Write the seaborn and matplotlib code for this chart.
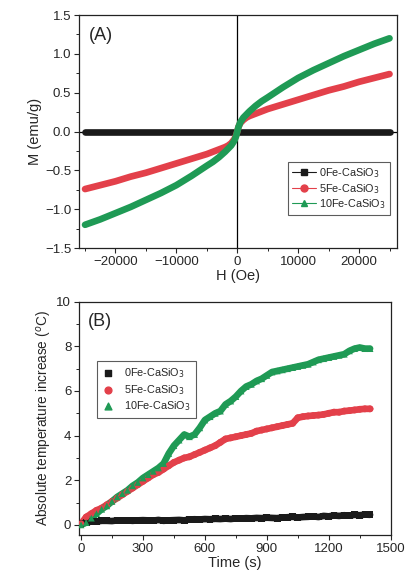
import numpy as np
import pandas as pd
import seaborn as sns
import matplotlib.pyplot as plt
from matplotlib.ticker import AutoMinorLocator, MultipleLocator

sns.set_theme(style="white")
plt.rcParams['font.family'] = ['Liberation Sans', 'DejaVu Sans']

# ---------- Panel A: M vs H ----------
H = [-25000, -22500, -20000, -17500, -15000, -12500, -10000, -7500, -5000, -4000, -3000,
     -2000, -1500, -1000, -500, -200, 0, 200, 500, 1000, 1500, 2000, 3000, 4000, 5000,
     7500, 10000, 12500, 15000, 17500, 20000, 22500, 25000]
M_0Fe = [0.0] * len(H)
M_5Fe = [-0.74, -0.69, -0.64, -0.58, -0.53, -0.47, -0.41, -0.35, -0.29, -0.26, -0.23,
         -0.20, -0.18, -0.15, -0.10, -0.05, 0.0, 0.06, 0.11, 0.15, 0.18, 0.20, 0.23, 0.26, 0.29,
         0.35, 0.41, 0.47, 0.53, 0.58, 0.64, 0.69, 0.74]
M_10Fe = [-1.20, -1.13, -1.05, -0.97, -0.88, -0.79, -0.69, -0.57, -0.44, -0.39, -0.33,
          -0.26, -0.22, -0.18, -0.12, -0.06, 0.0, 0.06, 0.12, 0.18, 0.22, 0.26, 0.33, 0.39, 0.44,
          0.57, 0.69, 0.79, 0.88, 0.97, 1.05, 1.13, 1.20]

# ---------- Panel B: temperature vs time ----------
t = [0, 25, 50, 75, 100, 125, 150, 175, 200, 225, 250, 275, 300, 325, 350, 375, 400, 425,
     450, 475, 500, 525, 550, 575, 600, 625, 650, 675, 700, 725, 750, 775, 800, 825, 850,
     875, 900, 925, 950, 975, 1000, 1025, 1050, 1075, 1100, 1125, 1150, 1175, 1200, 1225,
     1250, 1275, 1300, 1325, 1350, 1375, 1400]
T_0Fe = [0.05, 0.10, 0.15, 0.15, 0.18, 0.18, 0.17, 0.20, 0.19, 0.20, 0.18, 0.20, 0.21, 0.20,
         0.19, 0.22, 0.18, 0.20, 0.21, 0.22, 0.20, 0.24, 0.25, 0.24, 0.26, 0.25, 0.27, 0.26,
         0.28, 0.26, 0.29, 0.28, 0.30, 0.29, 0.31, 0.30, 0.32, 0.31, 0.30, 0.33, 0.34, 0.36,
         0.33, 0.35, 0.36, 0.38, 0.35, 0.40, 0.38, 0.42, 0.40, 0.43, 0.41, 0.45, 0.43, 0.46, 0.45]
T_5Fe = [0.05, 0.35, 0.50, 0.65, 0.75, 0.90, 1.05, 1.20, 1.35, 1.50, 1.65, 1.80, 1.95, 2.10,
         2.25, 2.35, 2.50, 2.65, 2.80, 2.90, 3.00, 3.05, 3.15, 3.25, 3.35, 3.45, 3.55, 3.70,
         3.85, 3.90, 3.95, 4.00, 4.05, 4.10, 4.20, 4.25, 4.30, 4.35, 4.40, 4.45, 4.50, 4.55,
         4.80, 4.85, 4.88, 4.90, 4.92, 4.95, 5.00, 5.05, 5.05, 5.10, 5.12, 5.15, 5.18, 5.20, 5.20]
T_10Fe = [0.00, 0.10, 0.30, 0.50, 0.70, 0.85, 1.05, 1.25, 1.40, 1.55, 1.75, 1.90, 2.10, 2.25,
          2.40, 2.55, 2.75, 3.20, 3.55, 3.80, 4.05, 3.95, 4.05, 4.35, 4.70, 4.85, 5.00, 5.10,
          5.40, 5.55, 5.75, 6.00, 6.20, 6.30, 6.45, 6.55, 6.70, 6.85, 6.90, 6.95, 7.00, 7.05,
          7.10, 7.15, 7.20, 7.30, 7.40, 7.45, 7.50, 7.55, 7.60, 7.65, 7.80, 7.90, 7.95, 7.90, 7.90]

labels = ['0Fe-CaSiO$_3$', '5Fe-CaSiO$_3$', '10Fe-CaSiO$_3$']
colors = ['#1a1a1a', '#e3404a', '#1f9a55']
markers = ['s', 'o', '^']

fig = plt.figure(figsize=(4.07, 5.77), dpi=100)
axA = fig.add_axes([0.194, 0.570, 0.781, 0.404])
axB = fig.add_axes([0.194, 0.073, 0.766, 0.404])

dfA = pd.DataFrame({'H': H * 3, 'M': M_0Fe + M_5Fe + M_10Fe,
                    'series': sum([[l] * len(H) for l in labels], [])})
dfB = pd.DataFrame({'t': t * 3, 'T': T_0Fe + T_5Fe + T_10Fe,
                    'series': sum([[l] * len(t) for l in labels], [])})

# Panel A: reference lines at zero
axA.axhline(0, color='black', lw=0.9, zorder=1)
axA.axvline(0, color='black', lw=0.9, zorder=1)
for lab, c, m in zip(labels, colors, markers):
    d = dfA[dfA.series == lab]
    sns.lineplot(data=d, x='H', y='M', ax=axA, color=c, lw=4.8, sort=False,
                 estimator=None, legend=False, zorder=3)
    axA.plot([], [], color=c, marker=m, ms=5, lw=0.8, label=lab)
axA.set_xlim(-26000, 26200)
axA.set_ylim(-1.5, 1.5)
axA.xaxis.set_major_locator(MultipleLocator(10000))
axA.yaxis.set_major_locator(MultipleLocator(0.5))
axA.set_xlabel('H (Oe)', fontsize=10.5, labelpad=1)
axA.set_ylabel('M (emu/g)', fontsize=10.5, labelpad=2)
axA.text(0.03, 0.95, '(A)', transform=axA.transAxes, fontsize=13, va='top', ha='left')
legA = axA.legend(loc='lower right', bbox_to_anchor=(0.995, 0.12), fontsize=7.8,
                  frameon=True, fancybox=False, edgecolor='#333333', handlelength=2.2,
                  handletextpad=0.3, borderpad=0.35, labelspacing=0.15)
legA.get_frame().set_linewidth(0.8)

# Panel B
for lab, c, m in zip(labels, colors, markers):
    d = dfB[dfB.series == lab]
    sns.lineplot(data=d, x='t', y='T', ax=axB, color=c, lw=4.8, sort=False,
                 estimator=None, legend=False, zorder=3)
    sns.scatterplot(data=d, x='t', y='T', ax=axB, color=c, marker=m, s=24,
                    edgecolor='none', legend=False, zorder=4)
    axB.scatter([], [], color=c, marker=m, s=24, label=lab)
axB.set_xlim(-10, 1500)
axB.set_ylim(-0.45, 10)
axB.xaxis.set_major_locator(MultipleLocator(300))
axB.yaxis.set_major_locator(MultipleLocator(2))
axB.set_xlabel('Time (s)', fontsize=10.5, labelpad=1)
axB.set_ylabel('Absolute temperature increase ($^o$C)', fontsize=9.8, labelpad=2)
axB.text(0.03, 0.95, '(B)', transform=axB.transAxes, fontsize=13, va='top', ha='left')
legB = axB.legend(loc='upper left', bbox_to_anchor=(0.04, 0.77), fontsize=7.8,
                  frameon=True, fancybox=False, edgecolor='#333333', handlelength=1.0,
                  handletextpad=1.0, borderpad=0.5, labelspacing=0.25)
legB.get_frame().set_linewidth(0.8)

for ax in (axA, axB):
    ax.xaxis.set_minor_locator(AutoMinorLocator(2))
    ax.yaxis.set_minor_locator(AutoMinorLocator(2))
    ax.tick_params(which='major', direction='out', length=3.5, width=0.8,
                   labelsize=9.5, bottom=True, left=True, top=False, right=False, pad=2)
    ax.tick_params(which='minor', direction='out', length=2, width=0.7,
                   bottom=True, left=True, top=False, right=False)
    for s in ax.spines.values():
        s.set_color('#222222')
        s.set_linewidth(0.9)

fig.savefig('out.png', dpi=100)
